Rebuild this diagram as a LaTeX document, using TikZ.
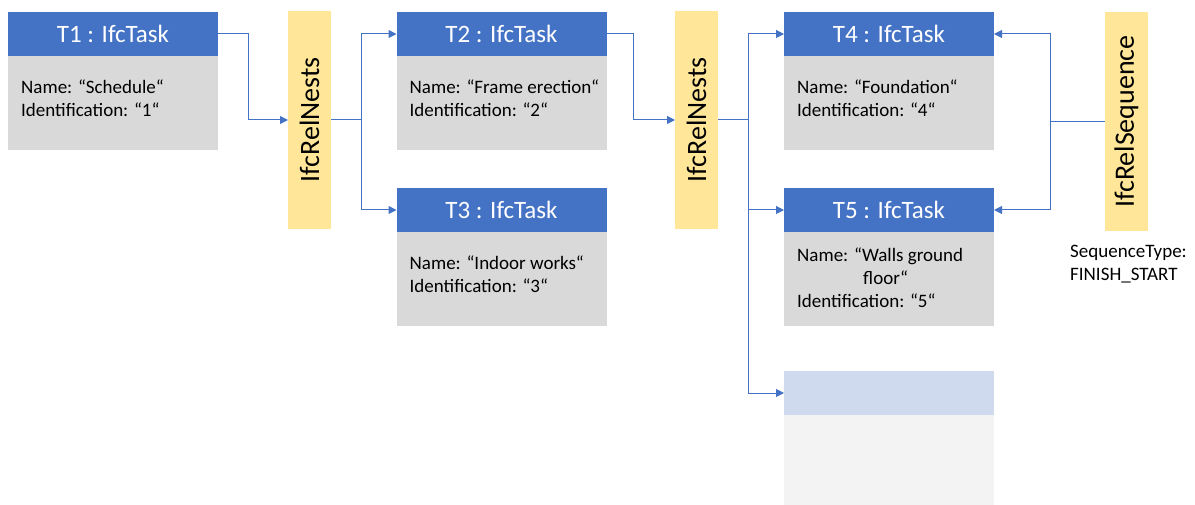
\documentclass[tikz,border=0pt]{standalone}
\usepackage{fontspec}
\setmainfont{Carlito}
\usepackage{tikz}
\usetikzlibrary{calc,positioning,arrows.meta}
\definecolor{taskblue}{HTML}{4472C4}
\definecolor{taskgray}{HTML}{D9D9D9}
\definecolor{relyellow}{HTML}{FFE699}
\definecolor{paleblue}{HTML}{CFDAEF}
\definecolor{palegray}{HTML}{F3F3F3}

\begin{document}
\begin{tikzpicture}[x=1pt,y=-1pt,
	head/.style={fill=taskblue,text=white,minimum width=210pt,minimum height=44pt,inner sep=0pt,outer sep=0pt,font=\fontsize{25}{30}\selectfont},
	body/.style={fill=taskgray,minimum width=210pt,minimum height=94pt,inner sep=0pt,outer sep=0pt},
	info/.style={anchor=north west,align=left,inner sep=0pt,font=\fontsize{19}{23}\selectfont},
	rel/.style={fill=relyellow,rotate=90,minimum width=218pt,minimum height=43pt,inner sep=0pt,outer sep=0pt,font=\fontsize{28}{32}\selectfont},
	conn/.style={draw=taskblue,line width=1pt},
	link/.style={conn,-{Triangle[length=8pt,width=8pt]}}]
			\useasboundingbox (0,0) rectangle (1195,505);
			% tasks
			\node[head] (h1) at (113,34) {T1 : IfcTask};
			\node[body,below=0pt of h1] (b1) {};
			\node[info] (i1) at ($(b1.north west)+(13,24)$) {Name: “Schedule“\\Identification: “1“};
			\node[head] (h2) at (501.5,34) {T2 : IfcTask};
			\node[body,below=0pt of h2] (b2) {};
			\node[info] (i2) at ($(b2.north west)+(13,24)$) {Name: “Frame erection“\\Identification: “2“};
			\node[head] (h3) at (501.5,210) {T3 : IfcTask};
			\node[body,below=0pt of h3] (b3) {};
			\node[info] (i3) at ($(b3.north west)+(13,24)$) {Name: “Indoor works“\\Identification: “3“};
			\node[head] (h4) at (889,34) {T4 : IfcTask};
			\node[body,below=0pt of h4] (b4) {};
			\node[info] (i4) at ($(b4.north west)+(13,24)$) {Name: “Foundation“\\Identification: “4“};
			\node[head] (h5) at (889,210) {T5 : IfcTask};
			\node[body,below=0pt of h5] (b5) {};
			\node[info] (i5) at ($(b5.north west)+(13,16)$) {Name: “Walls ground\\\hspace*{66pt}floor“\\Identification: “5“};
			\node[head,fill=paleblue] (h6) at (889,393) {};
			\node[body,fill=palegray,minimum height=90pt,below=0pt of h6] (b6) {};
			% relations
			\node[rel] (n1) at (309.5,120) {IfcRelNests};
			\node[rel] (n2) at (696.5,120) {IfcRelNests};
			\node[rel,minimum width=219pt] (seq) at (1126.5,121.5) {IfcRelSequence};
			\node[info] (st) at (1070,245) {SequenceType:\\FINISH\_START};
			% connectors
			\draw[link] (h1.east) -- ++(30,0) |- (n1.north);
			\draw[conn] (n1.south) -- ++(30,0) coordinate (j1);
			\draw[link] (j1) |- (h2.west);
			\draw[link] (j1) |- (h3.west);
			\draw[link] (h2.east) -- ++(27,0) |- (n2.north);
			\draw[conn] (n2.south) -- ++(30,0) coordinate (j2);
			\draw[link] (j2) |- (h4.west);
			\draw[link] (j2) |- (h5.west);
			\draw[link] (j2) |- (h6.west);
			\draw[conn] (seq.north) -- ++(-55,0) coordinate (j3);
			\draw[link] (j3) |- (h4.east);
			\draw[link] (j3) |- (h5.east);
		\end{tikzpicture}
\end{document}
